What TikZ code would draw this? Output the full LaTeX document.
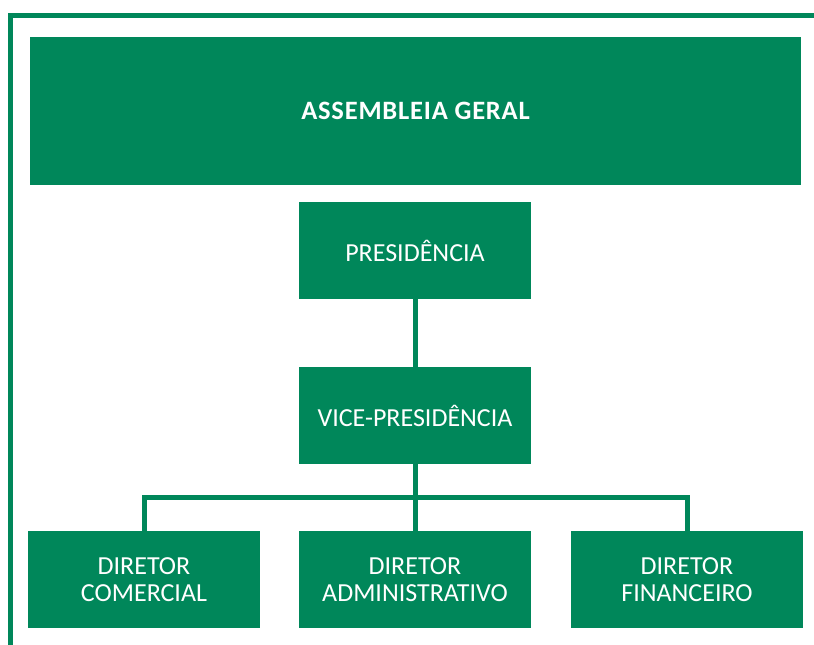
\documentclass[tikz,border=0pt]{standalone}
\usepackage{fontspec}
\setmainfont{Carlito}
\definecolor{ggreen}{RGB}{0,135,90}
\tikzset{
  box/.style={fill=ggreen, draw=none, text=white, align=center, inner sep=0pt,
    minimum width=232pt, minimum height=97pt, font=\fontsize{26}{27}\selectfont},
  link/.style={draw=ggreen, line width=5pt}
}
\begin{document}
\begin{tikzpicture}[x=1pt,y=-1pt]
\useasboundingbox (0,0) rectangle (814,645);
\coordinate (tr) at (814,15.5);
\coordinate (tl) at (10.5,15.5);
\coordinate (bl) at (10.5,645);
\draw[link, line cap=rect] (tr) -- (tl) -- (bl);
\node[box, minimum width=771pt, minimum height=148pt, font=\fontsize{26.5}{27}\selectfont\bfseries\addfontfeatures{LetterSpace=3}] (ag) at (415.5,111) {ASSEMBLEIA GERAL};
\node[box] (pres) at (415,250.5) {PRESIDÊNCIA};
\node[box] (vice) at (415,415.5) {VICE-PRESIDÊNCIA};
\node[box] (dc) at (144,579.5) {DIRETOR\\COMERCIAL};
\node[box] (da) at (415,579.5) {DIRETOR\\ADMINISTRATIVO};
\node[box] (df) at (687,579.5) {DIRETOR\\FINANCEIRO};
\coordinate (bus) at (415,497);
\draw[link] (pres.south) -- (vice.north);
\draw[link] (vice.south) -- (da.north);
\draw[link] (dc.north) -- (dc.north |- bus) -- (df.north |- bus) -- (df.north);
\end{tikzpicture}
\end{document}
